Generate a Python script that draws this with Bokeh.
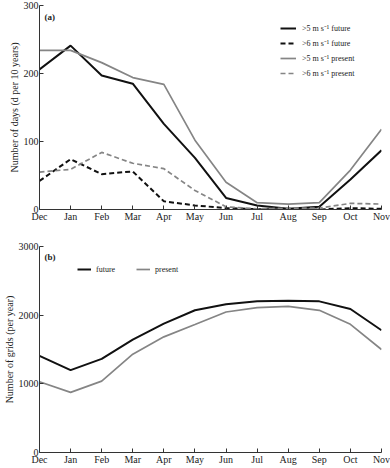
from bokeh.plotting import figure
from bokeh.models import Range1d, FixedTicker, Legend, LegendItem, Label
from bokeh.layouts import column
from bokeh.embed import file_html
from bokeh.resources import INLINE

months = ["Dec", "Jan", "Feb", "Mar", "Apr", "May", "Jun", "Jul", "Aug", "Sep", "Oct", "Nov"]

# panel (a): number of days (d per 10 years)
gt5_future = [206, 241, 197, 185, 126, 76, 17, 6, 1, 4, 44, 87]
gt6_future = [42, 74, 52, 56, 12, 6, 2, 0.5, 0, 0, 2, 1]
gt5_present = [234, 234, 216, 194, 184, 102, 40, 10, 8, 10, 58, 118]
gt6_present = [55, 59, 84, 68, 60, 28, 4, 1, 2, 2, 9, 8]

# panel (b): number of grids (per year)
grids_future = [1408, 1200, 1364, 1645, 1877, 2071, 2158, 2201, 2211, 2201, 2090, 1780]
grids_present = [1030, 876, 1040, 1432, 1684, 1863, 2046, 2109, 2129, 2071, 1867, 1500]

yticks_a = [0, 100, 200, 300]
yticks_b = [0, 1000, 2000, 3000]

xs = list(range(len(months)))
FONT = "Liberation Serif"
BLACK = "#111111"
GRAY = "#858585"


def style(p, yticks, ylabel):
    p.xaxis.ticker = FixedTicker(ticks=xs)
    p.xaxis.major_label_overrides = {i: m for i, m in enumerate(months)}
    p.yaxis.ticker = FixedTicker(ticks=yticks)
    p.yaxis.axis_label = ylabel
    for ax in (p.xaxis, p.yaxis):
        ax.major_label_text_font = FONT
        ax.major_label_text_font_size = "10px"
        ax.major_label_text_color = "#222222"
        ax.axis_label_text_font = FONT
        ax.axis_label_text_font_size = "10px"
        ax.axis_label_text_font_style = "normal"
        ax.axis_label_text_color = "#222222"
        ax.axis_line_color = "#333333"
        ax.major_tick_line_color = "#333333"
        ax.major_tick_in = 4
        ax.major_tick_out = 0
        ax.minor_tick_line_color = None
        ax.major_label_standoff = 1
        ax.axis_label_standoff = 1
    p.grid.visible = False
    p.outline_line_color = None
    p.background_fill_color = "white"
    p.border_fill_color = "white"


p1 = figure(width=390, height=224, output_backend="svg", toolbar_location=None,
            x_range=Range1d(0, 11), y_range=Range1d(0, 300),
            min_border_left=35, min_border_right=9, min_border_top=5, min_border_bottom=14)
style(p1, yticks_a, "Number of days (d per 10 years)")
r1 = p1.line(xs, gt5_future, line_color=BLACK, line_width=2)
r2 = p1.line(xs, gt6_future, line_color=BLACK, line_width=2, line_dash="5 3")
r3 = p1.line(xs, gt5_present, line_color=GRAY, line_width=1.7)
r4 = p1.line(xs, gt6_present, line_color=GRAY, line_width=1.7, line_dash="5 3")
leg1 = Legend(items=[
    LegendItem(label=">5 m s\u207b\u00b9 future", renderers=[r1]),
    LegendItem(label=">6 m s\u207b\u00b9 future", renderers=[r2]),
    LegendItem(label=">5 m s\u207b\u00b9 present", renderers=[r3]),
    LegendItem(label=">6 m s\u207b\u00b9 present", renderers=[r4]),
], location=(241, 131), orientation="vertical", border_line_color=None,
    background_fill_alpha=0, padding=0, margin=0, spacing=4,
    glyph_width=16, glyph_height=10, label_height=10, label_standoff=6,
    label_text_font=FONT, label_text_font_size="8px", label_text_color="#222222")
p1.add_layout(leg1)
p1.add_layout(Label(x=0, y=300, x_offset=5, y_offset=-11, text="(a)", text_font=FONT,
                    text_font_size="9px", text_font_style="bold", text_baseline="middle",
                    text_color="#222222"))

p2 = figure(width=390, height=243, output_backend="svg", toolbar_location=None,
            x_range=Range1d(0, 11), y_range=Range1d(0, 3000),
            min_border_left=35, min_border_right=9, min_border_top=22, min_border_bottom=14)
style(p2, yticks_b, "Number of grids (per year)")
s1 = p2.line(xs, grids_future, line_color=BLACK, line_width=2)
s2 = p2.line(xs, grids_present, line_color=GRAY, line_width=1.7)
leg2 = Legend(items=[
    LegendItem(label="future", renderers=[s1]),
    LegendItem(label="present", renderers=[s2]),
], location=(38, 178), orientation="horizontal", border_line_color=None,
    background_fill_alpha=0, padding=0, margin=0, spacing=20,
    glyph_width=14, glyph_height=10, label_height=10, label_standoff=5,
    label_text_font=FONT, label_text_font_size="8px", label_text_color="#222222")
p2.add_layout(leg2)
p2.add_layout(Label(x=0, y=3000, x_offset=5, y_offset=-10, text="(b)", text_font=FONT,
                    text_font_size="9px", text_font_style="bold", text_baseline="middle",
                    text_color="#222222"))

layout = column(p1, p2, spacing=0)
open("out.html", "w").write(file_html(layout, INLINE))
